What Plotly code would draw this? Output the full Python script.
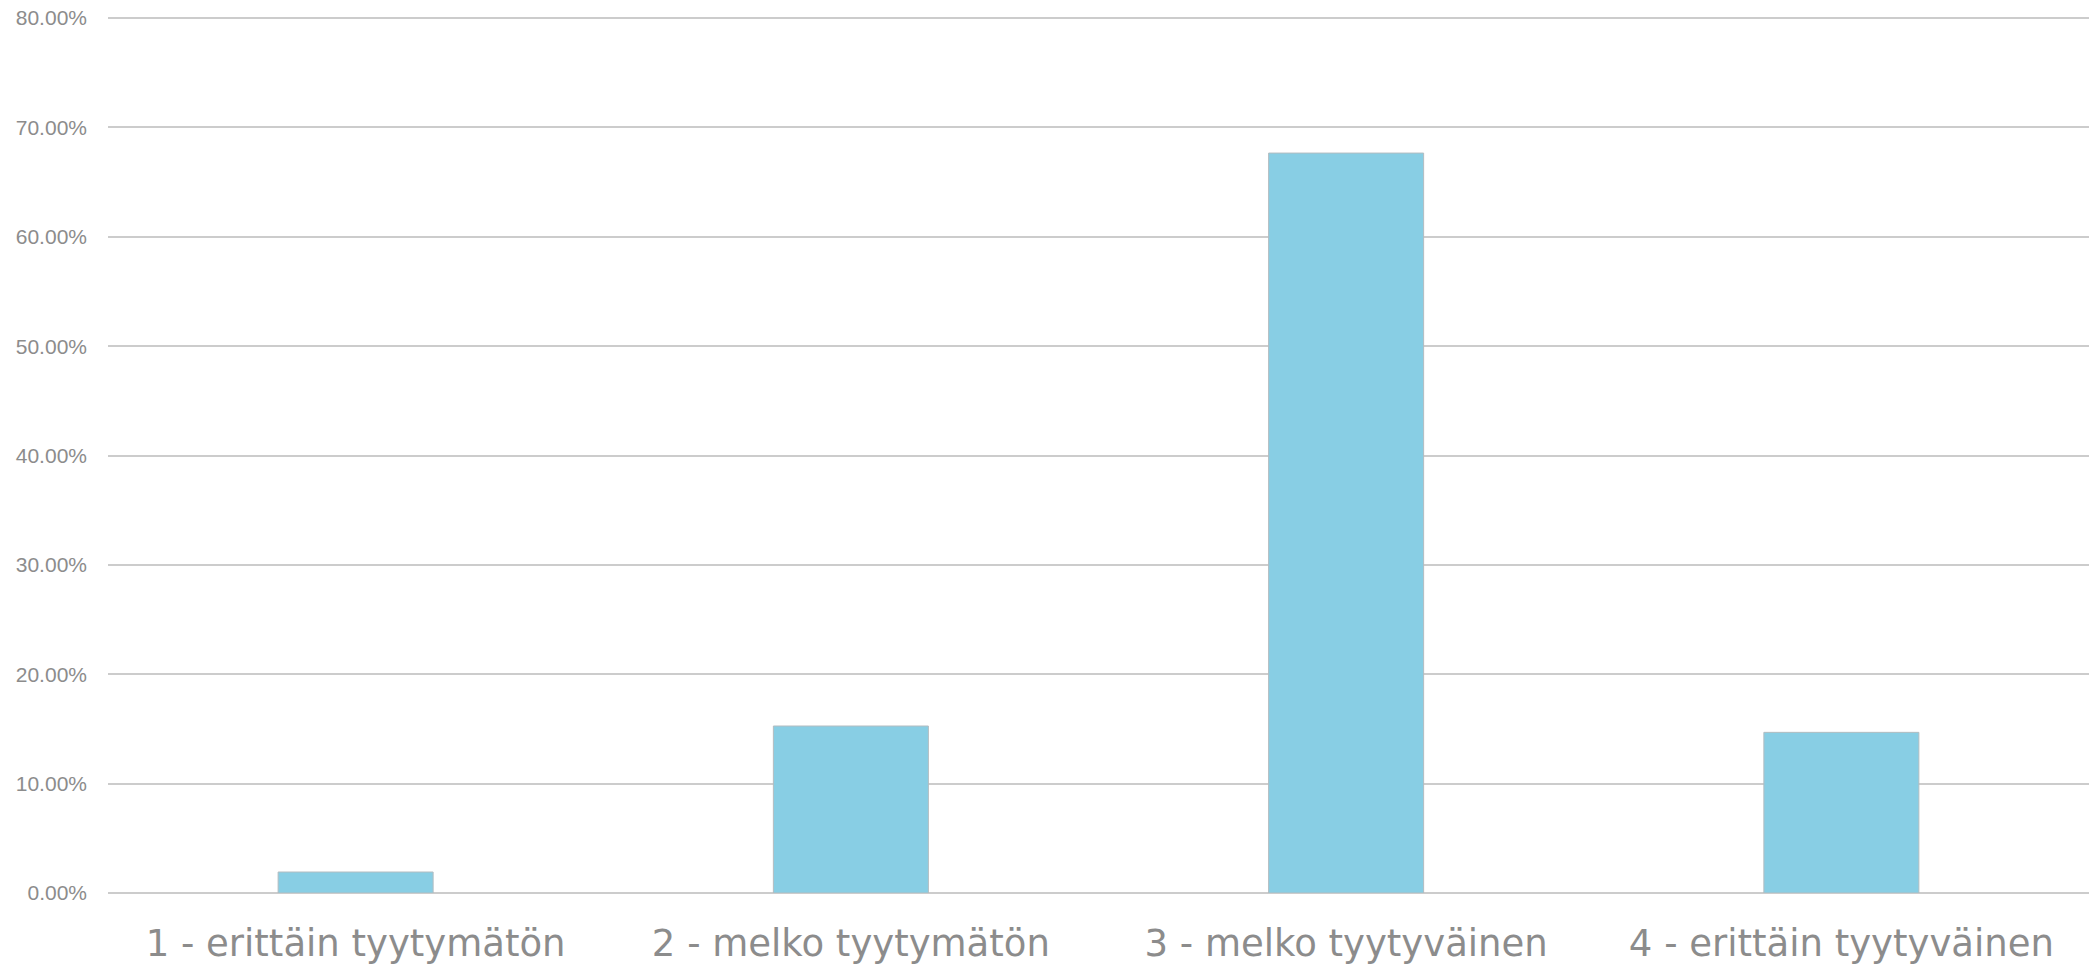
import plotly.graph_objects as go

categories = ["1 - erittäin tyytymätön", "2 - melko tyytymätön", "3 - melko tyytyväinen", "4 - erittäin tyytyväinen"]
values = [1.92, 15.27, 67.66, 14.69]
y_ticks = [0, 10, 20, 30, 40, 50, 60, 70, 80]
y_tick_text = [f"{v:.2f}%" for v in y_ticks]

fig = go.Figure(go.Bar(
    x=categories, y=values,
    marker=dict(color="#88cee4", line=dict(color="#b3bcc0", width=1)),
    width=0.313,
))

fig.update_layout(
    width=2096, height=967,
    margin=dict(l=108, r=7, t=17, b=74),
    plot_bgcolor="white", paper_bgcolor="white",
    showlegend=False,
    bargap=0.687,
)
fig.update_yaxes(
    range=[0, 80.1], tickvals=y_ticks, ticktext=y_tick_text,
    showgrid=True, gridcolor="#cccccc", gridwidth=2,
    zeroline=True, zerolinecolor="#cccccc", zerolinewidth=2,
    tickfont=dict(family="Liberation Sans Narrow, Liberation Sans, Arial", size=21, color="#8c8c8c"),
    ticks="", ticklabelstandoff=20, automargin=False,
)
fig.update_xaxes(
    showline=False, ticks="", automargin=False,
    tickfont=dict(family="DejaVu Sans", size=37, color="#8c8c8c"),
    ticklabelstandoff=25,
)

fig.write_html(
    "out.html",
    config={"displayModeBar": False},
    post_script="document.body.style.margin='0';document.body.style.overflow='hidden';",
)
